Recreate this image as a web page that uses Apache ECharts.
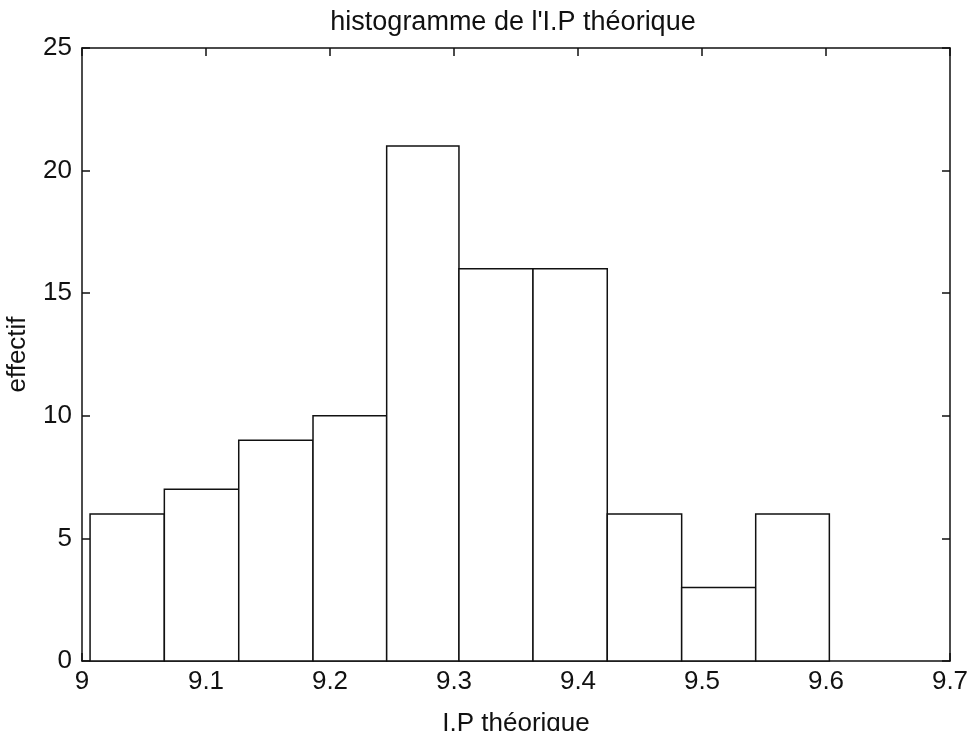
<!DOCTYPE html>
<html>
<head>
<meta charset="utf-8">
<script src="https://cdn.jsdelivr.net/npm/echarts@6/dist/echarts.min.js"></script>
<style>
  html, body { margin: 0; padding: 0; background: #fff; }
  #chart { width: 970px; height: 731px; }
</style>
</head>
<body>
<div id="chart"></div>
<script>
// bords des classes (10 classes) et effectifs
const binStarts = [9.0065, 9.0664, 9.1264, 9.1863, 9.2457, 9.3040, 9.3637, 9.4236, 9.4836, 9.5433];
const binEnds   = [9.0664, 9.1264, 9.1863, 9.2457, 9.3040, 9.3637, 9.4236, 9.4836, 9.5433, 9.6027];
const counts    = [6, 7, 9, 10, 21, 16, 16, 6, 3, 6];

const FONT = "Liberation Sans, Arial, sans-serif";
const FS = 26;
const data = counts.map((c, i) => [binStarts[i], binEnds[i], c]);

const chart = echarts.init(document.getElementById("chart"));

const axisCommon = {
  axisLine: { show: true, onZero: false, lineStyle: { color: "#111", width: 1.5 } },
  axisTick: { show: true, inside: true, length: 8, lineStyle: { color: "#111", width: 1.5 } },
  splitLine: { show: false }
};

chart.setOption({
  animation: false,
  title: {
    text: "histogramme de l'I.P théorique",
    left: 508, top: 4, textAlign: "center",
    textStyle: { fontFamily: FONT, fontSize: 27, fontWeight: "normal", color: "#111" }
  },
  grid: { left: 82, right: 20, top: 48, bottom: 70, outerBoundsMode: "none", containLabel: false },
  xAxis: [
    {
      type: "value", min: 9, max: 9.7, interval: 0.1, position: "bottom",
      name: "I.P théorique", nameLocation: "middle", nameGap: 50,
      nameTextStyle: { fontFamily: FONT, fontSize: FS, color: "#111" },
      axisLabel: { fontFamily: FONT, fontSize: FS, color: "#111", margin: 8,
        formatter: v => +v.toFixed(1) + "" },
      ...axisCommon
    },
    {
      type: "value", min: 9, max: 9.7, interval: 0.1, position: "top",
      axisLabel: { show: false },
      ...axisCommon
    }
  ],
  yAxis: [
    {
      type: "value", min: 0, max: 25, interval: 5, position: "left",
      name: "effectif", nameLocation: "middle", nameGap: 51, nameRotate: 90,
      nameTextStyle: { fontFamily: FONT, fontSize: FS, color: "#111" },
      axisLabel: { fontFamily: FONT, fontSize: FS, color: "#111", margin: 10 },
      ...axisCommon
    },
    {
      type: "value", min: 0, max: 25, interval: 5, position: "right",
      axisLabel: { show: false },
      ...axisCommon
    }
  ],
  series: [{
    type: "custom",
    data: data,
    encode: { x: [0, 1], y: 2 },
    renderItem: (params, api) => {
      const p0 = api.coord([api.value(0), api.value(2)]);
      const p1 = api.coord([api.value(1), 0]);
      return {
        type: "rect",
        shape: { x: p0[0], y: p0[1], width: p1[0] - p0[0], height: p1[1] - p0[1] },
        style: { fill: "#fff", stroke: "#111", lineWidth: 1.5 }
      };
    }
  }]
});
</script>
</body>
</html>
